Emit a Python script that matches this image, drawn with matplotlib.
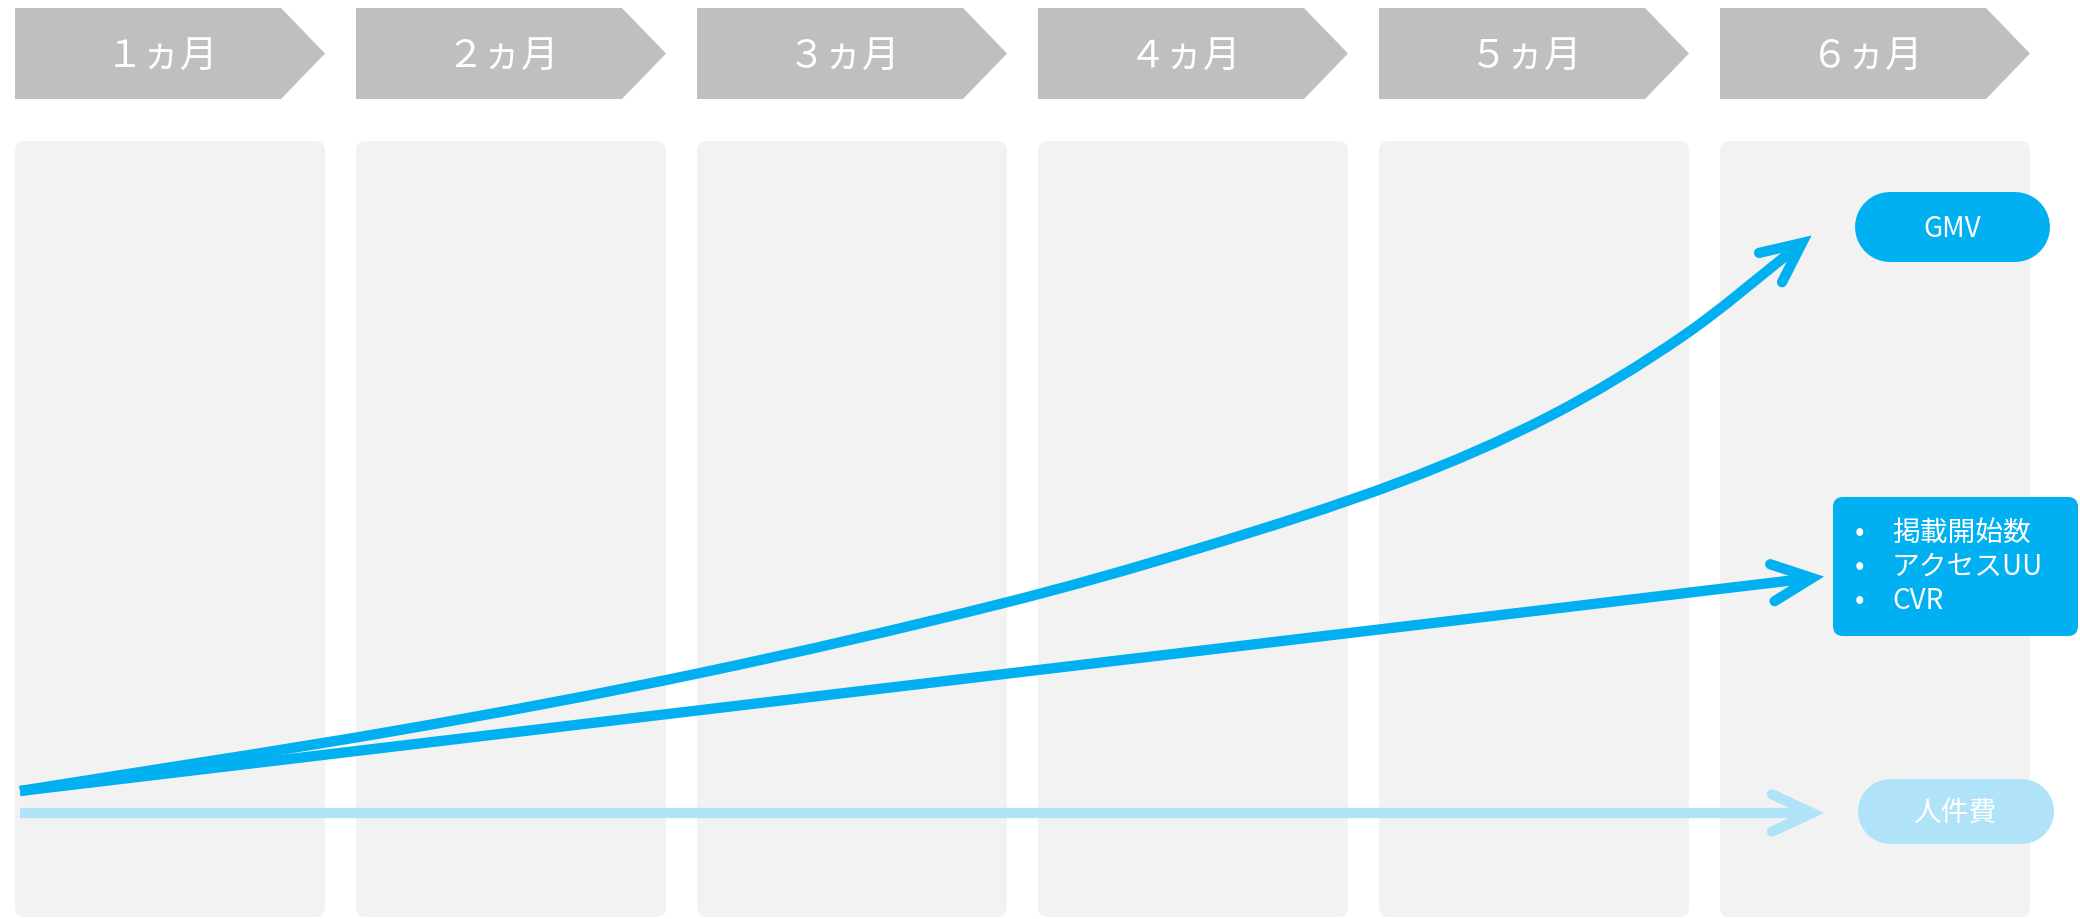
import numpy as np
import matplotlib
matplotlib.use("Agg")
import matplotlib.pyplot as plt
from matplotlib.patches import FancyBboxPatch, Polygon, PathPatch
from matplotlib.path import Path

plt.rcParams['font.family'] = ['Noto Sans CJK JP', 'DejaVu Sans']

# month headers
months = ['１ヵ月', '２ヵ月', '３ヵ月', '４ヵ月', '５ヵ月', '６ヵ月']

# GMV curve (pixel positions, y grows downward)
gmv_x = [20, 400, 700, 1000, 1200, 1400, 1550, 1683, 1802]
gmv_y = [791, 730, 673, 604, 548, 482, 416, 336, 243]

# 掲載開始数 / アクセスUU / CVR line
kpi_x = [20, 1812]
kpi_y = [791, 578]

# 人件費 line
cost_x = [20, 1812]
cost_y = [813, 813]

kpi_items = ['掲載開始数', 'アクセスUU', 'CVR']
gmv_label = 'GMV'
cost_label = '人件費'

BLUE = '#00B0F0'
LIGHT = '#B0E3F7'
PANEL = '#F2F2F2'
HEAD = '#BFBFBF'

W, H = 2080, 919
fig = plt.figure(figsize=(W / 100, H / 100), dpi=100)
ax = fig.add_axes([0, 0, 1, 1])
ax.set_xlim(0, W)
ax.set_ylim(H, 0)
ax.axis('off')

# panels and headers
for i, m in enumerate(months):
    left = 15 + 341 * i
    ax.add_patch(FancyBboxPatch((left, 141), 310, 776,
                                boxstyle='round,pad=0,rounding_size=10',
                                fc=PANEL, ec='none', zorder=1))
    ax.add_patch(Polygon([(left, 8), (left + 266, 8), (left + 310, 53.5),
                          (left + 266, 99), (left, 99)],
                         closed=True, fc=HEAD, ec='none', zorder=1))
    ax.text(left + 147, 57, m, color='white', fontsize=27,
            ha='center', va='center', zorder=3)

lw = 7.4


def arrow_head(tx, ty, px, py, color, length=44, spread=25):
    # open chevron at (tx, ty), pointing away from (px, py)
    ang = np.arctan2(py - ty, px - tx)
    a1 = ang + np.radians(spread)
    a2 = ang - np.radians(spread)
    xs = [tx + length * np.cos(a1), tx, tx + length * np.cos(a2)]
    ys = [ty + length * np.sin(a1), ty, ty + length * np.sin(a2)]
    ax.plot(xs, ys, color=color, lw=lw, solid_capstyle='round',
            solid_joinstyle='miter', zorder=4)


def smooth_path(xs, ys):
    # cubic Hermite curve through the points, drawn as Bezier segments
    x = np.asarray(xs, float)
    y = np.asarray(ys, float)
    n = len(x)
    m = np.empty(n)
    m[0] = (y[1] - y[0]) / (x[1] - x[0])
    m[-1] = (y[-1] - y[-2]) / (x[-1] - x[-2])
    m[1:-1] = (y[2:] - y[:-2]) / (x[2:] - x[:-2])
    verts = [(x[0], y[0])]
    codes = [Path.MOVETO]
    for i in range(n - 1):
        h = x[i + 1] - x[i]
        verts += [(x[i] + h / 3, y[i] + m[i] * h / 3),
                  (x[i + 1] - h / 3, y[i + 1] - m[i + 1] * h / 3),
                  (x[i + 1], y[i + 1])]
        codes += [Path.CURVE4] * 3
    return Path(verts, codes)


def pill(x0, x1, yc, h, color):
    # rounded label shape: a thick line with round caps
    r = h / 2
    ax.plot([x0 + r, x1 - r], [yc, yc], color=color, lw=h * 0.72,
            solid_capstyle='round', zorder=3)


ax.plot(cost_x, cost_y, color=LIGHT, lw=lw, solid_capstyle='butt', zorder=3)
arrow_head(cost_x[-1], cost_y[-1], cost_x[-2], cost_y[-2], LIGHT)

ax.plot(kpi_x, kpi_y, color=BLUE, lw=lw, solid_capstyle='butt', zorder=3)
arrow_head(kpi_x[-1], kpi_y[-1], kpi_x[-2], kpi_y[-2], BLUE)

ax.add_patch(PathPatch(smooth_path(gmv_x, gmv_y), fc='none', ec=BLUE, lw=lw,
                       capstyle='butt', zorder=3))
arrow_head(gmv_x[-1], gmv_y[-1], gmv_x[-2], gmv_y[-2], BLUE)

# label boxes
pill(1855, 2050, 227, 70, BLUE)
ax.text(1952, 229, gmv_label, color='white', fontsize=20,
        ha='center', va='center', zorder=4)

pill(1857, 2053, 811, 65, LIGHT)
ax.text(1955, 813, cost_label, color='white', fontsize=20,
        ha='center', va='center', zorder=4)

ax.add_patch(FancyBboxPatch((1833, 497), 245, 139,
                            boxstyle='round,pad=0,rounding_size=10',
                            fc=BLUE, ec='none', zorder=3))
for k, item in enumerate(kpi_items):
    y = 533 + 34 * k
    ax.text(1859, y, '•', color='white', fontsize=20,
            ha='center', va='center', zorder=4)
    ax.text(1892, y, item, color='white', fontsize=20,
            ha='left', va='center', zorder=4)

fig.savefig('out.png', dpi=100)
